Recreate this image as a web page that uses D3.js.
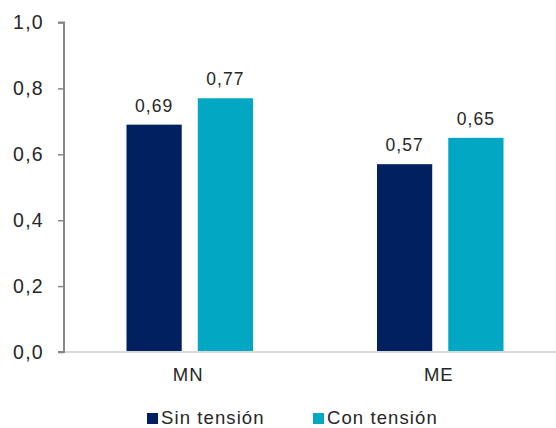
<!DOCTYPE html>
<html>
<head>
<meta charset="utf-8">
<script src="https://cdn.jsdelivr.net/npm/d3@7"></script>
<style>
  html, body { margin: 0; padding: 0; background: #fff; }
  svg { display: block; }
  text { font-family: "Liberation Sans", Arial, sans-serif; fill: #262626; }
</style>
</head>
<body>
<svg id="chart" width="556" height="428"></svg>
<script>
// Categories, series and axis ticks
const categories = ["MN", "ME"];
const seriesNames = ["Sin tensión", "Con tensión"];
const sinTension = [0.69, 0.57];
const conTension = [0.77, 0.65];
const yTicks = [0, 0.2, 0.4, 0.6, 0.8, 1.0];
const colors = ["#002060", "#01A7C3"];

const fmt = v => d3.format(".2f")(v).replace(".", ",");
const fmtTick = v => d3.format(".1f")(v).replace(".", ",");

const svg = d3.select("#chart");

const x = d3.scaleBand().domain(categories).range([64.5, 565.5]).paddingInner(0).paddingOuter(0);
const x1 = d3.scaleBand().domain(seriesNames).range([62, x.bandwidth() - 62]).paddingInner(0.225);
const y = d3.scaleLinear().domain([0, 1]).range([352, 22.5]);

const rows = categories.map((c, i) => ({ cat: c, values: [sinTension[i], conTension[i]] }));

// Bars
const groups = svg.append("g").selectAll("g").data(rows).join("g")
  .attr("transform", d => `translate(${x(d.cat)},0)`);

groups.selectAll("rect").data(d => d.values.map((v, k) => ({ v, k })))
  .join("rect")
  .attr("x", d => x1(seriesNames[d.k]))
  .attr("width", x1.bandwidth())
  .attr("y", d => y(d.v))
  .attr("height", d => y(0) - y(d.v))
  .attr("fill", d => colors[d.k]);

// Value labels
groups.selectAll("text.val").data(d => d.values.map((v, k) => ({ v, k })))
  .join("text")
  .attr("class", "val")
  .attr("text-anchor", "middle")
  .attr("x", d => x1(seriesNames[d.k]) + x1.bandwidth() / 2)
  .attr("y", d => y(d.v) - 13)
  .style("font-size", "17.5px")
  .style("letter-spacing", "1px")
  .text(d => fmt(d.v));

// X axis baseline
svg.append("line")
  .attr("x1", 64).attr("x2", 556)
  .attr("y1", y(0)).attr("y2", y(0))
  .attr("stroke", "#d9d9d9").attr("stroke-width", 2);

// Category labels
svg.append("g").selectAll("text").data(categories).join("text")
  .attr("text-anchor", "middle")
  .attr("x", d => x(d) + x.bandwidth() / 2 - 1.5)
  .attr("y", 381)
  .style("font-size", "18.5px")
  .style("letter-spacing", "1px")
  .text(d => d);

// Y axis
const yAxis = d3.axisLeft(y).tickValues(yTicks).tickSize(6).tickPadding(14).tickFormat(fmtTick);
const ya = svg.append("g").attr("transform", "translate(64,0)").call(yAxis);
ya.select(".domain").attr("stroke", "#868686").attr("stroke-width", 2).attr("d", `M-6,${y(1)}H0V${y(0)}H-6`);
ya.selectAll(".tick line").attr("stroke", "#868686").attr("stroke-width", 1.5);
ya.selectAll(".tick text")
  .style("font-family", "'Liberation Sans', Arial, sans-serif")
  .style("font-size", "19.5px")
  .style("letter-spacing", "1.3px")
  .attr("fill", "#262626");

// Legend
const legendX = [147, 313];
const lg = svg.append("g").selectAll("g").data(seriesNames).join("g")
  .attr("transform", (d, i) => `translate(${legendX[i]},413)`);
lg.append("rect").attr("width", 11).attr("height", 11).attr("fill", (d, i) => colors[i]);
lg.append("text").attr("x", 14).attr("y", 10.5)
  .style("font-size", "18.5px")
  .style("letter-spacing", "1.1px")
  .text(d => d);
</script>
</body>
</html>
